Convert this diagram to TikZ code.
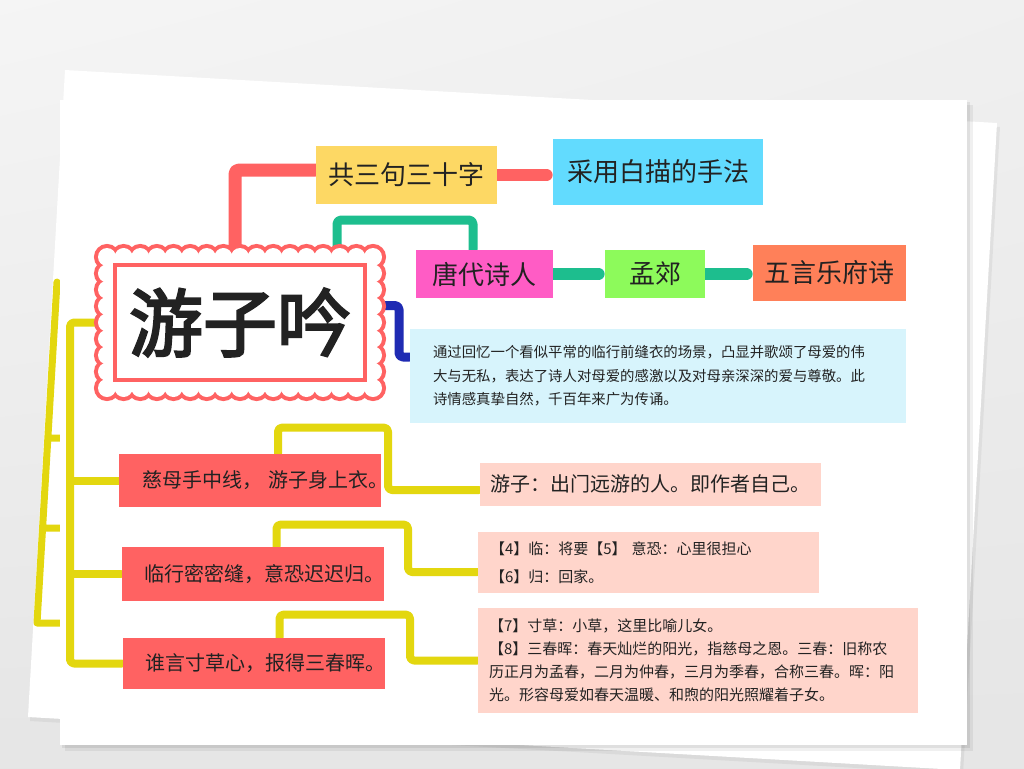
\documentclass[tikz,border=0pt]{standalone}
\usepackage{fontspec}
\setmainfont{Noto Sans CJK SC}
\newfontfamily\titlefont[BoldFont={Noto Sans CJK SC},BoldFeatures={FakeBold=3}]{Noto Sans CJK SC}
\usetikzlibrary{backgrounds,calc,shadings}

\definecolor{salmonred}{HTML}{FF6262}
\definecolor{boxyellow}{HTML}{FDD864}
\definecolor{boxcyan}{HTML}{62DBFE}
\definecolor{boxmagenta}{HTML}{FF5CC5}
\definecolor{boxgreen}{HTML}{8DFA5B}
\definecolor{boxorange}{HTML}{FF8059}
\definecolor{descblue}{HTML}{D7F4FC}
\definecolor{notepink}{HTML}{FFD5CB}
\definecolor{tealgreen}{HTML}{1DBE8E}
\definecolor{lineyellow}{HTML}{E3D70F}
\definecolor{navyblue}{HTML}{1F2BB3}
\definecolor{inkblack}{HTML}{222222}

\newcommand\scallopring[1]{%
  \foreach \i in {0,...,16} \foreach \y in {257,388} \path[#1] (107+\i*16.625,\y) circle (9);
  \foreach \i in {1,...,7} \foreach \x in {107,373} \path[#1] (\x,257+\i*16.375) circle (9);}

\begin{document}
\begin{tikzpicture}[x=0.5pt,y=-0.5pt,text=inkblack,
  topbox/.style={inner sep=0pt,align=center,font=\fontsize{13pt}{15pt}\selectfont},
  redbox/.style={fill=salmonred,inner xsep=11.5pt,inner ysep=0pt,text width=108pt,align=left,
    minimum height=#1,font=\fontsize{10pt}{12pt}\selectfont},
  notebox/.style={fill=notepink,inner ysep=0pt,align=left,font=\fontsize{7.5pt}{11.5pt}\selectfont},
  conn/.style={line width=#1,line cap=round,line join=round,rounded corners=2pt}]
\useasboundingbox (0,0) rectangle (1024,768);

\scallopring{draw=salmonred,line width=4pt}
\scallopring{fill=white}
\fill[white] (107,257) rectangle (373,388);
\node[draw=salmonred,line width=2pt,fill=white,minimum width=125pt,minimum height=57.5pt,inner sep=0pt,
  font=\fontsize{37pt}{40pt}\titlefont\bfseries] (title) at (240,322.5) {游子吟};

\node[topbox,fill=boxyellow,minimum width=90.5pt,minimum height=29pt] (gong) at (406.5,175) {共三句三十字};
\node[topbox,fill=boxcyan,minimum width=105pt,minimum height=33pt] (caiyong) at (658,172) {采用白描的手法};
\node[topbox,fill=boxmagenta,minimum width=68.5pt,minimum height=24pt] (tang) at (484.5,274) {唐代诗人};
\node[topbox,fill=boxgreen,minimum width=50pt,minimum height=24pt] (meng) at (655,274) {孟郊};
\node[topbox,fill=boxorange,minimum width=76.5pt,minimum height=28pt] (wuyan) at (829.5,273) {五言乐府诗};

\node[fill=descblue,inner xsep=11.5pt,inner ysep=0pt,text width=225pt,minimum height=47pt,align=left,
  font=\fontsize{7.2pt}{11.75pt}\selectfont] (desc) at (658,376)
  {通过回忆一个看似平常的临行前缝衣的场景，凸显并歌颂了母爱的伟\\
   大与无私，表达了诗人对母爱的感激以及对母亲深深的爱与尊敬。此\\
   诗情感真挚自然，千百年来广为传诵。};

\node[redbox=26.5pt] (red1) at (250,480.5) {慈母手中线，~游子身上衣。};
\node[redbox=27pt] (red2) at (252.5,574) {临行密密缝，意恐迟迟归。};
\node[redbox=25.5pt] (red3) at (253.5,663.5) {谁言寸草心，报得三春晖。};

\node[fill=notepink,inner sep=0pt,minimum width=170.5pt,minimum height=21.5pt,
  font=\fontsize{10pt}{12pt}\selectfont] (pink1) at (650,484) {游子：出门远游的人。即作者自己。};
\node[notebox,inner xsep=6pt,text width=158.5pt,minimum height=30.5pt,
  font=\fontsize{7.5pt}{14pt}\selectfont] (pink2) at (648.5,562.5)
  {【4】临：将要【5】~意恐：心里很担心\\【6】归：回家。};
\node[notebox,inner xsep=5.5pt,text width=209pt,minimum height=52.5pt] (pink3) at (698,660.5)
  {【7】寸草：小草，这里比喻儿女。\\
   【8】三春晖：春天灿烂的阳光，指慈母之恩。三春：旧称农\\
   历正月为孟春，二月为仲春，三月为季春，合称三春。晖：阳\\
   光。形容母爱如春天温暖、和煦的阳光照耀着子女。};

\begin{pgfonlayer}{background}
\shade[upper left=gray!8,upper right=gray!12,lower left=gray!20,lower right=gray!20] (0,0) rectangle (1024,768);
\fill[black,opacity=0.05] (67,74) -- (1000,127) -- (963,774) -- (30,721) -- cycle;
\fill[white] (65,70) -- (997,123) -- (960,770) -- (28,717) -- cycle;
\draw[lineyellow,line width=3.5pt,line cap=round,line join=round] (57,282) -- (37,623) -- (62,623)
  (48,438) -- (62,438) (43,528) -- (62,528);
\fill[black,opacity=0.06] (65,105) rectangle (973,751);
\fill[black,opacity=0.07] (62,102) rectangle (970,748);
\fill[white] (60,100) rectangle (967,745);

\draw[conn=6.5pt,salmonred] ([xshift=-2.5pt]title.north) |- ([yshift=2.5pt]gong.west);
\draw[conn=6pt,salmonred,shorten >=3pt] (gong.east) -- (gong.east -| caiyong.west);
\draw[conn=4.5pt,tealgreen] ([xshift=-15pt]title.north east) -- ++(0,21.5pt) -| ([xshift=-5.75pt]tang.north);
\draw[conn=6pt,tealgreen,shorten >=3pt] (tang.east) -- (meng.west);
\draw[conn=6pt,tealgreen,shorten >=3pt] (meng.east) -- (meng.east -| wuyan.west);
\draw[conn=4.5pt,navyblue] ([yshift=8.5pt]title.east) -- ++(16pt,0) |- ([yshift=9.5pt]desc.west);

\draw[conn=4pt,lineyellow] (title.west) -- ++(-21.5pt,0) coordinate (ytop) |- (red3.west);
\draw[conn=4pt,lineyellow] (ytop |- red1.west) -- (red1.west);
\draw[conn=4pt,lineyellow] (ytop |- red2.west) -- (red2.west);
\draw[conn=4pt,lineyellow] ([xshift=14pt]red1.north) -- ++(0,13pt) -- ++(55pt,0) |- ([yshift=-3pt]pink1.west);
\draw[conn=4pt,lineyellow] ([xshift=12pt]red2.north) -- ++(0,11pt) -- ++(65.75pt,0) |- ([yshift=-4.75pt]pink2.west);
\draw[conn=4pt,lineyellow] ([xshift=13pt]red3.north) -- ++(0,11.5pt) -- ++(65.25pt,0) |- (pink3.west);
\end{pgfonlayer}
\end{tikzpicture}
\end{document}
